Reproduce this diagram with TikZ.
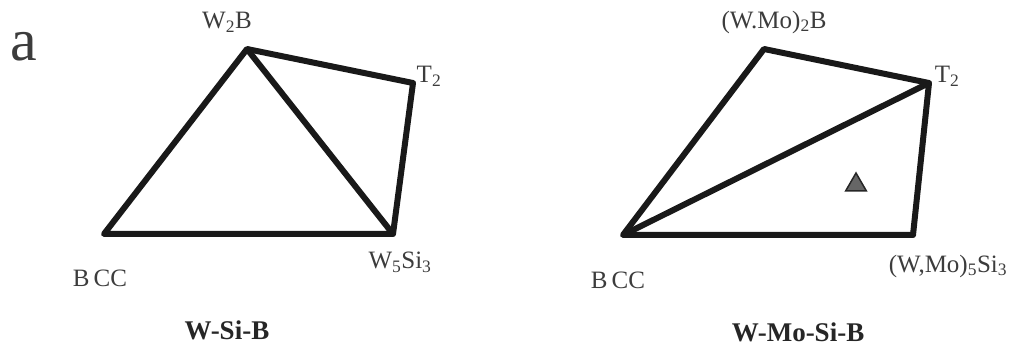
\documentclass[tikz,border=0pt]{standalone}
\usepackage{fontspec}
\setmainfont{Liberation Serif}
\usetikzlibrary{shapes.geometric}
\definecolor{labelgray}{HTML}{3C3C3C}
\begin{document}
\begin{tikzpicture}[
    x=1pt, y=-1pt,
    edge/.style={line width=6pt, line join=round, black!90},
    phase/.style={font=\fontsize{25}{30}\selectfont, text=labelgray, inner sep=0pt},
    system/.style={font=\fontsize{27}{32}\selectfont\bfseries, text=black!85, inner sep=0pt},
    alloy/.style={regular polygon, regular polygon sides=3, minimum size=24pt, inner sep=0pt,
        fill=black!60, draw=black!85, line width=1.5pt}
]
    \useasboundingbox (0,0) rectangle (1022,347);

    % Panel label
    \node[font=\fontsize{60}{64}\selectfont, text=labelgray, inner sep=0pt] (panel) at (24,47) {a};

    % Left: W-Si-B vertices
    \coordinate (bccL) at (104,234);
    \coordinate (wbL) at (247,49);
    \coordinate (tL) at (413,83);
    \coordinate (wsiL) at (393,234);

    \draw[edge] (bccL) -- (wbL) -- (tL) -- (wsiL) -- cycle;
    \draw[edge] (wbL) -- (wsiL);

    \node[phase] (wbLlab) at (227,22) {W\textsubscript{2}B};
    \node[phase] (tLlab) at (429,76) {T\textsubscript{2}};
    \node[phase] (wsiLlab) at (400,262) {W\textsubscript{5}Si\textsubscript{3}};
    \node[phase] (bccLlab) at (100,278) {B\,CC};
    \node[system] (sysL) at (227,330) {W-Si-B};

    % Right: W-Mo-Si-B vertices
    \coordinate (bccR) at (623,235);
    \coordinate (wbR) at (764,49);
    \coordinate (tR) at (929,83);
    \coordinate (wsiR) at (913,235);

    \draw[edge] (bccR) -- (wbR) -- (tR) -- (wsiR) -- cycle;
    \draw[edge] (bccR) -- (tR);

    \node[phase] (wbRlab) at (774,22) {(W.Mo)\textsubscript{2}B};
    \node[phase] (tRlab) at (947,76) {T\textsubscript{2}};
    \node[phase] (wsiRlab) at (948,266) {(W,Mo)\textsubscript{5}Si\textsubscript{3}};
    \node[phase] (bccRlab) at (618,280) {B\,CC};
    \node[system] (sysR) at (798,332) {W-Mo-Si-B};

    % Alloy composition
    \node[alloy] (comp) at (856,185) {};
\end{tikzpicture}
\end{document}
